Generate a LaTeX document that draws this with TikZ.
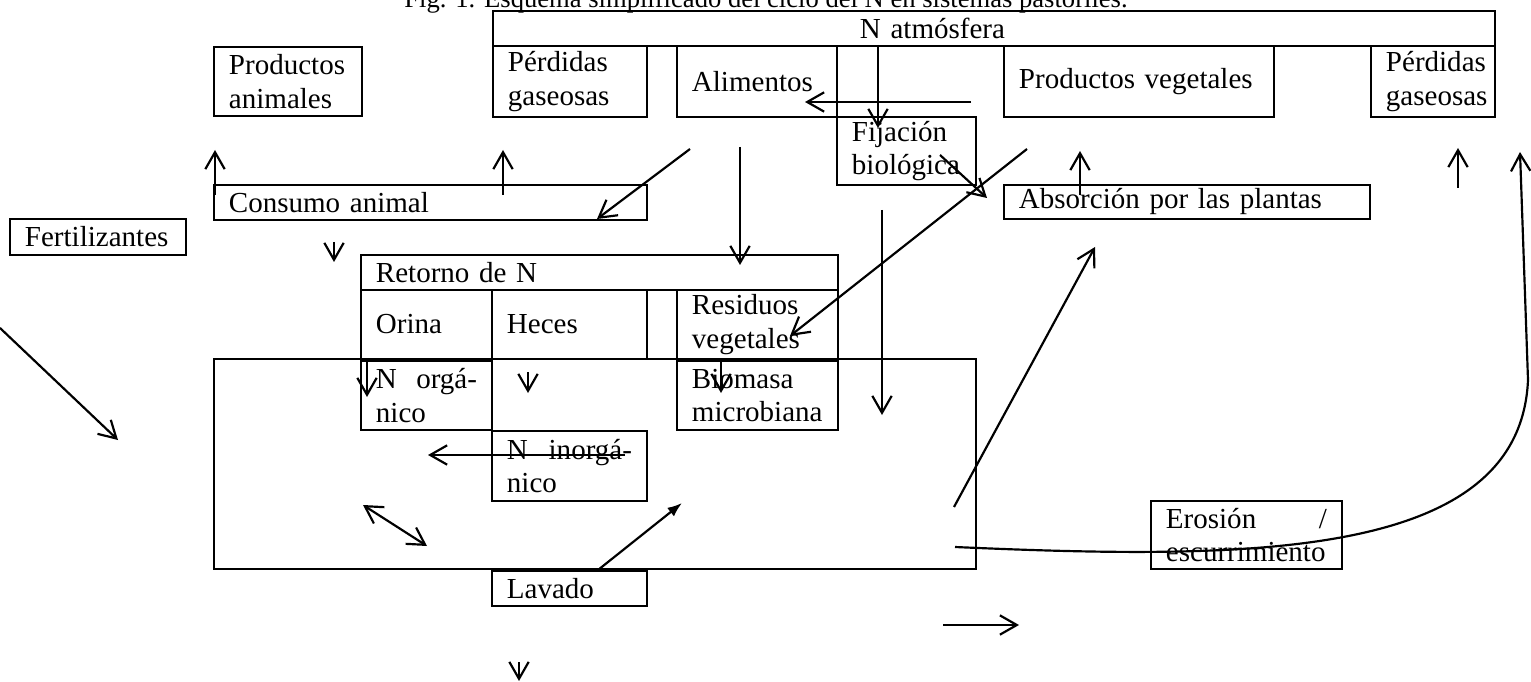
\documentclass[tikz,border=0pt]{standalone}
\usepackage{fontspec}
\setmainfont{Liberation Serif}
\usetikzlibrary{arrows.meta}
\newdimen\pxd \pxd=0.4135pt
\tikzset{
  caja/.code 2 args={\pgfmathsetlengthmacro\anchotexto{(#1-30)*\pxd}%
    \pgfkeysalso{draw, line width=0.8pt, anchor=north west, inner xsep=15\pxd, inner ysep=0pt,
      minimum width=#1*\pxd, minimum height=#2*\pxd, text width=\anchotexto, align=left}},
  punta/.tip={Straight Barb[length=7pt,width=8pt]},
  flecha/.style={line width=0.9pt, -punta},
}
\begin{document}
\begin{tikzpicture}[x=0.4135pt, y=-0.4135pt, font=\fontsize{12}{13.8}\selectfont]
\useasboundingbox (0,0) rectangle (1531,682);
% titulo, cortado por el borde de arriba
\node[anchor=base, font=\fontsize{11}{13}\selectfont] (titulo) at (766,7.5) {Fig. 1. Esquema simplificado del ciclo del N en sistemas pastoriles.};
% cajas de arriba
\node[caja={1002}{35}] (atm) at (492,10) {\hspace*{352\pxd}N atmósfera};
\node[caja={154}{71}] (perdL) at (492,45) {Pérdidas\\gaseosas};
\node[caja={160}{71}] (alim) at (676,45) {Alimentos};
\node[caja={270}{71}] (prodveg) at (1003,45) {Productos vegetales};
\node[caja={124}{71}] (perdR) at (1370,45) {Pérdidas\\gaseosas};
\node[caja={148}{69}] (prodanim) at (213,46) {Productos\\animales};
\node[caja={139}{68}] (fij) at (836,116) {Fijación\\biológica};
\node[caja={433}{35}] (consumo) at (213,184) {Consumo animal};
\node[caja={366}{34}] (absor) at (1003,184) {Absorción por las plantas};
\node[caja={176}{36}] (fert) at (9,218) {Fertilizantes};
% retorno de N
\node[caja={477}{35}] (retorno) at (360,254) {Retorno de N};
\node[caja={131}{69}] (orina) at (360,289) {Orina};
\node[caja={155}{69}] (heces) at (491,289) {Heces};
\node[caja={161}{69}] (resid) at (676,289) {Residuos\\vegetales};
% suelo
\node[caja={762}{210}] (suelo) at (213,358) {};
\node[caja={131}{69}] (norg) at (360,360) {N\hfill orgá-\\nico};
\node[caja={161}{69}] (biomasa) at (676,360) {Biomasa\\microbiana};
\node[caja={155}{70}] (ninorg) at (491,430) {N\hfill inorgá-\\nico};
\node[caja={155}{35}] (lavado) at (491,570) {Lavado};
\node[caja={191}{68}] (erosion) at (1150,500) {Erosión\hfill /\\escurrimiento};
% flechas
\foreach \i/\xa/\ya/\xb/\yb in {1/215/195/215/150, 2/503/195/503/150, 3/878/45/878/128,
    4/971/102/805/102, 5/690/149/597/219, 6/740/147/740/265, 7/940/155/987/198,
    8/1027/149/790/336, 9/1080/195/1080/151, 10/1458/188/1458/148, 11/882/210/882/415,
    12/954/507/1095/247, 13/0/328/118/440, 14/334/242/334/262, 15/367/360/367/397,
    16/528/372/528/393, 17/721/360/721/393, 18/625/455/428/455, 21/943/625/1019/625,
    22/519/662/519/681} {
  \coordinate (f\i i) at (\xa,\ya);
  \coordinate (f\i f) at (\xb,\yb);
  \draw[flecha] (f\i i) -- (f\i f);
}
\coordinate (f19i) at (363,505);
\coordinate (f19f) at (427,546);
\draw[flecha, punta-punta] (f19i) -- (f19f);
\coordinate (f20i) at (598,570);
\coordinate (f20f) at (682,503);
\draw[line width=0.9pt, -{Latex[length=6pt,width=4.5pt]}] (f20i) -- (f20f);
\coordinate (f23i) at (955,547);
\coordinate (f23m) at (1528,380);
\coordinate (f23f) at (1520,152);
\draw[flecha] (f23i) .. controls (1250,560) and (1520,560) .. (f23m) -- (f23f);
\end{tikzpicture}
\end{document}
